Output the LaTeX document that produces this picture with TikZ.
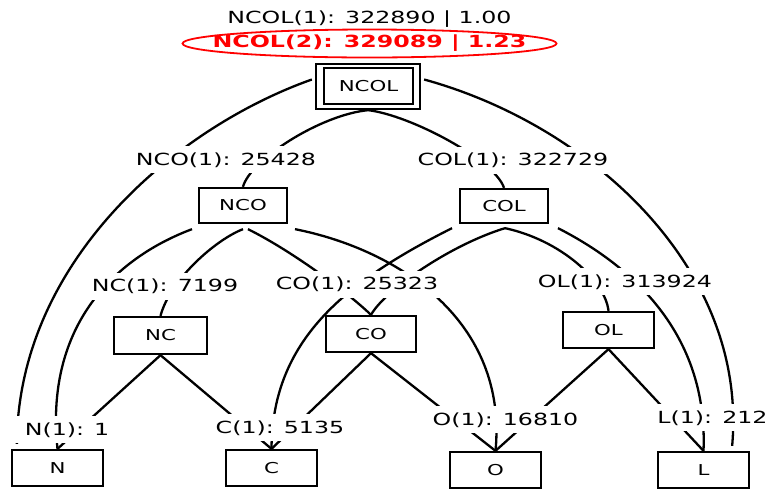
\documentclass[tikz,border=0pt]{standalone}
\usepackage{fontspec}
\setmainfont{DejaVu Sans}[FakeStretch=1.42]
\usetikzlibrary{arrows.meta,shapes.geometric}
\begin{document}
\begin{tikzpicture}[x=1pt,y=-1pt,
  box/.style={draw,line width=2.3pt,minimum width=91pt,minimum height=36pt,inner sep=0pt,font=\fontsize{15}{18}\selectfont},
  lbl/.style={fill=white,inner xsep=10pt,inner ysep=6pt,anchor=base,font=\fontsize{16.7}{20}\selectfont},
  edge/.style={line width=2.3pt}]
\useasboundingbox (0,0) rectangle (771,488);
% boxes
\node[box,minimum width=89pt,minimum height=36pt] (NCOL) at (368.5,86) {NCOL};
\node[box,minimum width=104pt,minimum height=45pt] (NCOLo) at (368,86.5) {};
\node[box,minimum width=88pt,minimum height=35pt] (NCO) at (243,205.5) {NCO};
\node[box,minimum width=88pt,minimum height=34pt] (COL) at (504,206) {COL};
\node[box,minimum width=93pt,minimum height=37pt] (NC) at (160.5,335.5) {NC};
\node[box,minimum width=90pt] (CO) at (371,334) {CO};
\node[box] (OL) at (608.5,330) {OL};
\node[box] (N) at (57.5,468) {N};
\node[box] (C) at (271.5,468) {C};
\node[box] (O) at (495.5,470) {O};
\node[box] (L) at (703.5,470) {L};
% edges
\draw[edge] ([xshift=-3pt,yshift=7pt]NCOLo.west) .. controls (175,128) and (18,262) .. ([xshift=6pt,yshift=5pt]N.north west);
\draw[edge] ([xshift=3pt,yshift=7pt]NCOLo.east) .. controls (590,125) and (748,268) .. ([xshift=-18pt,yshift=5pt]L.north east);
\draw[edge] (NCOLo.south) .. controls (320,115) and (250,160) .. (NCO.north);
\draw[edge] (NCOLo.south) .. controls (410,115) and (495,160) .. (COL.north);
\draw[edge] ([xshift=-51pt,yshift=-5pt]NCO.south) .. controls (110,260) and (45,330) .. (N.north);
\draw[edge] ([yshift=-5pt]NCO.south) .. controls (215,240) and (170,280) .. (NC.north);
\draw[edge] ([xshift=5pt,yshift=-5pt]NCO.south) .. controls (290,250) and (345,290) .. (CO.north);
\draw[edge] ([xshift=52pt,yshift=-5pt]NCO.south) .. controls (400,250) and (508,322) .. (O.north);
\draw[edge] ([xshift=-52pt,yshift=-4pt]COL.south) .. controls (345,282) and (272,340) .. (C.north);
\draw[edge] ([xshift=1pt,yshift=-4pt]COL.south) .. controls (450,245) and (385,290) .. (CO.north);
\draw[edge] ([xshift=1pt,yshift=-4pt]COL.south) .. controls (560,240) and (605,280) .. (OL.north);
\draw[edge] ([xshift=54pt,yshift=-4pt]COL.south) .. controls (640,270) and (708,340) .. (L.north);
\draw[edge] (NC.south) -- (N.north);
\draw[edge] (NC.south) -- (C.north);
\draw[edge] (CO.south) -- (C.north);
\draw[edge] (CO.south) -- (O.north);
\draw[edge] (OL.south) -- (O.north);
\draw[edge] (OL.south) -- (L.north);
% labels
\node[lbl] (lNCO) at (226,165) {NCO(1): 25428};
\node[lbl] (lCOL) at (513,165.5) {COL(1): 322729};
\node[lbl] (lNC) at (165,291.5) {NC(1): 7199};
\node[lbl] (lCO) at (357,289.5) {CO(1): 25323};
\node[lbl] (lOL) at (625,287) {OL(1): 313924};
\node[lbl] (lN) at (67,435) {N(1): 1};
\node[lbl] (lC) at (280,433) {C(1): 5135};
\node[lbl] (lO) at (505.5,425) {O(1): 16810};
\node[lbl] (lL) at (712.5,423) {L(1): 212};
% title
\node[anchor=base,inner sep=0pt,font=\fontsize{16.7}{20}\selectfont] (t1) at (369.5,23) {NCOL(1): 322890 | 1.00};
\node[inner sep=0pt,text=red,font=\fontsize{16.7}{20}\selectfont\bfseries] (t2) at (369.5,43.5) {NCOL(2): 329089 | 1.23};
\draw[red,line width=1.8pt] (t2.center) ellipse [x radius=187pt,y radius=14pt];
\end{tikzpicture}
\end{document}
